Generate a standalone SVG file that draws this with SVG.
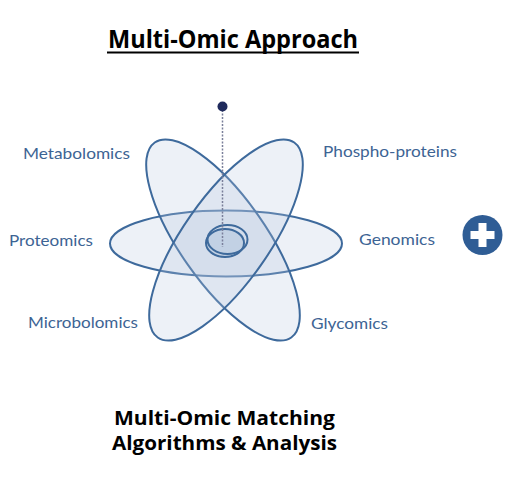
<svg xmlns="http://www.w3.org/2000/svg" width="519" height="479" viewBox="0 0 519 479">
<style>
.petal{fill:#b8c9df;fill-opacity:0.25;stroke:#3e6a9c;stroke-width:2}
.core{fill:none;stroke:#3e6a9c;stroke-width:2}
.lbl{font-family:"Lato","Open Sans","Liberation Sans",sans-serif;font-size:15px;fill:#3d6494}
.title{font-family:"Open Sans","Liberation Sans",sans-serif;font-weight:bold;fill:#000}
</style>
<rect width="519" height="479" fill="#fff"/>
<g id="title">
<text class="title" x="108" y="48" font-size="25" textLength="250" lengthAdjust="spacingAndGlyphs">Multi-Omic Approach</text>
<rect x="107" y="51.5" width="252" height="2" fill="#000"/>
</g>
<g id="petal-horizontal"><ellipse class="petal" cx="226" cy="243.5" rx="116" ry="33"/></g>
<g id="petal-left"><ellipse class="petal" cx="223" cy="240" rx="119" ry="43" transform="rotate(55 223 240)"/></g>
<g id="petal-right"><ellipse class="petal" cx="226" cy="240" rx="119" ry="43" transform="rotate(-55 226 240)"/></g>
<g id="core">
<ellipse cx="225" cy="243" rx="19" ry="14" fill="#b3c6de" fill-opacity="0.55" stroke="#3e6a9c" stroke-width="2"/>
<ellipse class="core" cx="227.5" cy="239.5" rx="20" ry="14.5"/>
</g>
<g id="connectors">
<line x1="222.5" y1="110" x2="222.5" y2="247" stroke="#7a7f9a" stroke-width="1.5" stroke-dasharray="2 1.5"/>
<circle cx="222.5" cy="106.5" r="5" fill="#1f2a5c"/>
</g>
<g id="label-metabolomics"><text class="lbl" x="23" y="159" textLength="107" lengthAdjust="spacingAndGlyphs">Metabolomics</text></g>
<g id="label-proteomics"><text class="lbl" x="9" y="246" textLength="84" lengthAdjust="spacingAndGlyphs">Proteomics</text></g>
<g id="label-microbolomics"><text class="lbl" x="28" y="328" textLength="110" lengthAdjust="spacingAndGlyphs">Microbolomics</text></g>
<g id="label-phospho"><text class="lbl" x="323" y="157" textLength="134" lengthAdjust="spacingAndGlyphs">Phospho-proteins</text></g>
<g id="label-genomics"><text class="lbl" x="359" y="245" textLength="76" lengthAdjust="spacingAndGlyphs">Genomics</text></g>
<g id="label-glycomics"><text class="lbl" x="311" y="329" textLength="77" lengthAdjust="spacingAndGlyphs">Glycomics</text></g>
<g id="plus">
<circle cx="482.5" cy="235" r="20" fill="#2f5d95"/>
<rect x="470.5" y="231" width="24" height="8" fill="#fff"/>
<rect x="478.5" y="223" width="8" height="24" fill="#fff"/>
</g>
<g id="footer">
<text class="title" x="114" y="425" font-size="20" textLength="221" lengthAdjust="spacingAndGlyphs">Multi-Omic Matching</text>
<text class="title" x="112" y="450" font-size="20" textLength="225" lengthAdjust="spacingAndGlyphs">Algorithms &amp; Analysis</text>
</g>
</svg>
